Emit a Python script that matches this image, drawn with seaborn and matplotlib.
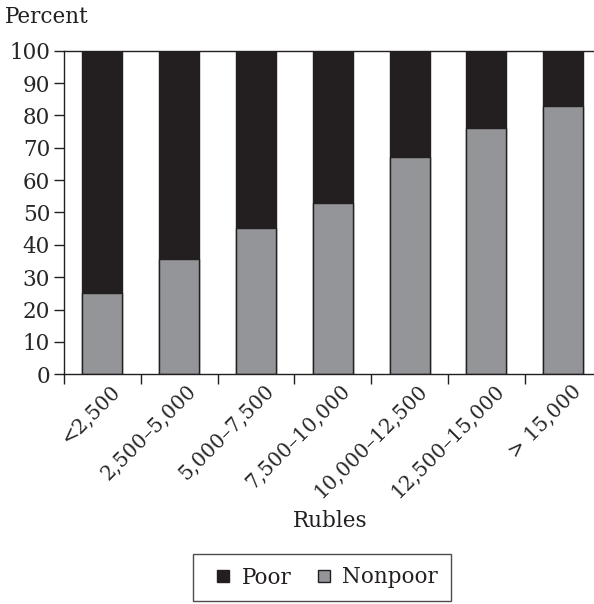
import matplotlib
matplotlib.use("Agg")
import matplotlib.pyplot as plt
import matplotlib.transforms as mtransforms
from matplotlib.lines import Line2D
import seaborn as sns
import pandas as pd

# Income groups (monthly income, rubles)
categories = ["<2,500", "2,500\u20135,000", "5,000\u20137,500", "7,500\u201310,000",
              "10,000\u201312,500", "12,500\u201315,000", "> 15,000"]
nonpoor = [25.0, 35.5, 45.3, 53.0, 67.2, 76.1, 83.0]
poor = [75.0, 64.5, 54.7, 47.0, 32.8, 23.9, 17.0]

yticks = list(range(0, 101, 10))

POOR_COLOR = "#231f20"
NONPOOR_COLOR = "#939598"
EDGE = "#231f20"
FS = 15.5

sns.set_theme(style="white")
plt.rcParams["font.family"] = ["DejaVu Serif"]
plt.rcParams["text.color"] = "#231f20"

df = pd.DataFrame({"group": categories, "nonpoor": nonpoor, "poor": poor})
df["total"] = df["nonpoor"] + df["poor"]

fig = plt.figure(figsize=(5.94, 6.04), dpi=100)
ax = fig.add_axes([64 / 594, (604 - 374.3) / 604, 537.6 / 594, 323.6 / 604])

# Stacked bars: full height (poor on top) then the nonpoor share beneath
sns.barplot(data=df, x="group", y="total", color=POOR_COLOR, width=0.52,
            saturation=1, edgecolor=EDGE, linewidth=1.0, ax=ax)
sns.barplot(data=df, x="group", y="nonpoor", color=NONPOOR_COLOR, width=0.52,
            saturation=1, edgecolor=EDGE, linewidth=1.0, ax=ax)

ax.set_xlim(-0.5, len(categories) - 0.5)
ax.set_ylim(0, 100)
ax.set_yticks(yticks)
ax.set_yticklabels([str(v) for v in yticks], fontsize=FS)
ax.tick_params(axis="y", direction="out", length=7, width=1, color=EDGE,
               pad=3, left=True)

ax.set_xticks(range(len(categories)))
ax.set_xticklabels(categories, rotation=45, ha="right", rotation_mode="anchor",
                   fontsize=14.5)
ax.tick_params(axis="x", which="major", length=0, pad=5)
ax.set_xticks([i - 0.5 for i in range(len(categories) + 1)], minor=True)
ax.tick_params(axis="x", which="minor", direction="out", length=7, width=1,
               color=EDGE, bottom=True)

# nudge the slanted labels a little to the right of the bar centres
shift = mtransforms.ScaledTranslation(0.08, 0.0, fig.dpi_scale_trans)
for lbl in ax.get_xticklabels():
    lbl.set_transform(lbl.get_transform() + shift)

ax.set_xlabel("")
ax.set_ylabel("")
for side in ["left", "bottom", "top"]:
    ax.spines[side].set_visible(True)
    ax.spines[side].set_color(EDGE)
    ax.spines[side].set_linewidth(1.0)
ax.spines["right"].set_visible(False)

fig.text(5 / 594, 1 - 17 / 604, "Percent", fontsize=FS, ha="left", va="center")
fig.text(330 / 594, 1 - 521 / 604, "Rubles", fontsize=FS, ha="center", va="center")

handles = [
    Line2D([], [], marker="s", linestyle="none", markersize=8,
           markerfacecolor=POOR_COLOR, markeredgecolor=EDGE, label="Poor"),
    Line2D([], [], marker="s", linestyle="none", markersize=8,
           markerfacecolor=NONPOOR_COLOR, markeredgecolor=EDGE, label="Nonpoor"),
]
leg = fig.legend(handles=handles, loc="center", bbox_to_anchor=(322 / 594, 1 - 577.5 / 604),
                 ncol=2, frameon=True, fancybox=False, fontsize=FS,
                 handlelength=1.6, handletextpad=0.05, columnspacing=0.7,
                 borderpad=0.6)
leg.get_frame().set_edgecolor(EDGE)
leg.get_frame().set_linewidth(1.0)

fig.savefig("out.png", dpi=100)
